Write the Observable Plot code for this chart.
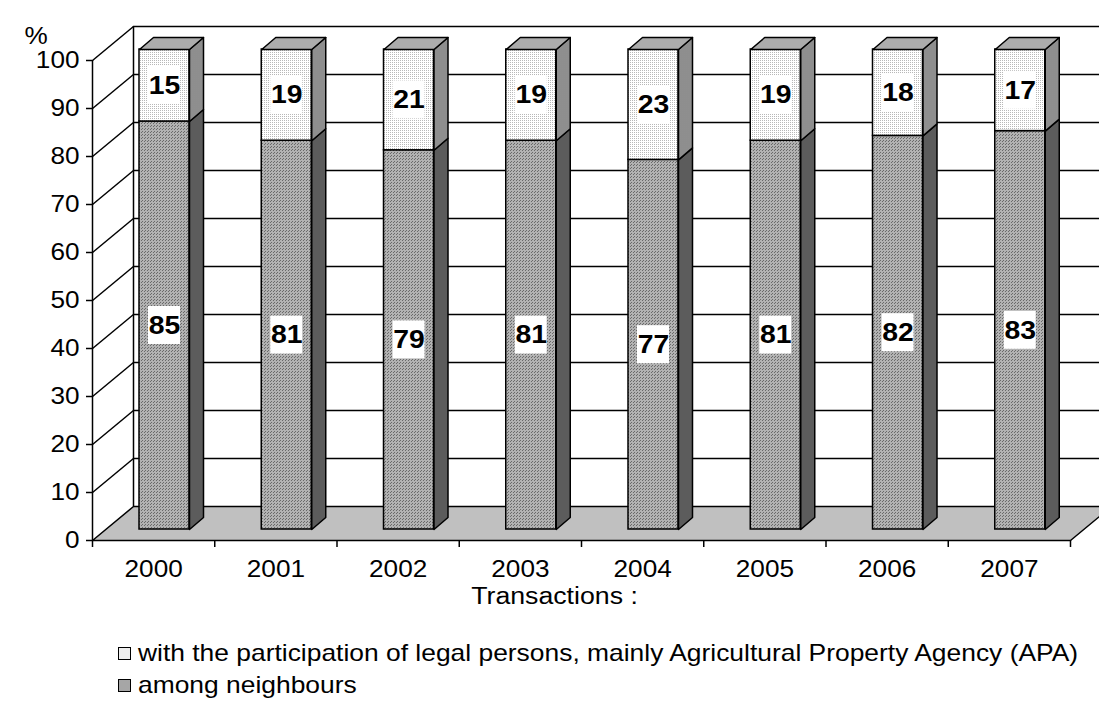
<!DOCTYPE html>
<html><head><meta charset="utf-8">
<script src="https://cdn.jsdelivr.net/npm/d3@7"></script>
<script src="https://cdn.jsdelivr.net/npm/@observablehq/plot@0.6"></script>
<style>
body{margin:0;background:#fff;font-family:"Liberation Sans",Arial,sans-serif;}
#wrap{position:relative;width:1099px;height:702px;}
#legend{position:absolute;left:118px;top:637px;font-size:24px;color:#000;line-height:32px;}
.item{display:flex;align-items:center;height:32px;white-space:nowrap;}
.sw{width:11px;height:11px;border:1.5px solid #000;margin-right:7px;flex:none;}
.tx{display:inline-block;transform:scaleX(1.1);transform-origin:left center;}
</style></head><body>
<div id="wrap"><div id="chart"></div><div id="legend"></div></div>
<script>
// ---- data ----
const years = ["2000","2001","2002","2003","2004","2005","2006","2007"];
const neighbours = [85,81,79,81,77,81,82,83];
const legalPersons = [15,19,21,19,23,19,18,17];
const yTicks = [0,10,20,30,40,50,60,70,80,90,100];
const seriesNames = ["with the participation of legal persons, mainly Agricultural Property Agency (APA)", "among neighbours"];
const axisTitle = "Transactions :";
const unitLabel = "%";

// ---- layout ----
const W=1099,H=615,ML=92,MR=29,MT=60,MB=75;
const n=years.length;
const kx=(W-ML-MR)/n, ky=(H-MT-MB)/100;
const px=p=>p/kx, py=p=>p/ky;
const WX=px(41), WY=py(34);           // wall depth
const OX=px(11), OY=py(11);           // bar front plane offset
const BL=px(36), BW=px(50);           // bar left in band, bar width
const DX=px(14), DY=py(12);           // bar depth
const STRETCH=1.09;                   // the original's text is slightly wide

const col={lowF:"url(#pLowF)",lowS:"url(#pLowS)",upF:"url(#pUpF)",upS:"url(#pUpS)",top:"url(#pTop)",floor:"#c0c0c0"};

// build geometry from values
const segs=[];
years.forEach((yr,i)=>{
  const lo=neighbours[i], hi=lo+legalPersons[i];
  segs.push({i,part:"low",y1:0,y2:lo,v:neighbours[i]});
  segs.push({i,part:"up",y1:lo,y2:hi,v:legalPersons[i]});
});
const fx1=d=>d.i+BL+OX, fx2=d=>d.i+BL+OX+BW;
const sidePoly=part=>segs.filter(d=>d.part===part).flatMap(d=>{
  const x=fx2(d), a=d.y1+OY, b=d.y2+OY, id=d.i;
  return [{id,x,y:a},{id,x:x+DX,y:a+DY},{id,x:x+DX,y:b+DY},{id,x,y:b}];
});
const topPoly=segs.filter(d=>d.part==="up").flatMap(d=>{
  const x1=fx1(d),x2=fx2(d),t=d.y2+OY,id=d.i;
  return [{id,x:x1,y:t},{id,x:x1+DX,y:t+DY},{id,x:x2+DX,y:t+DY},{id,x:x2,y:t}];
});
const floorPoly=[{x:0,y:0},{x:n,y:0},{x:n+WX,y:WY},{x:WX,y:WY}];
const cx=d=>(fx1(d)+fx2(d))/2, cy=d=>(d.y1+d.y2)/2+OY;

const chart=Plot.plot({
  width:W,height:H,marginLeft:ML,marginRight:MR,marginTop:MT,marginBottom:MB,
  x:{domain:[0,n],axis:null},
  y:{domain:[0,100],axis:null},
  style:{fontFamily:'"Liberation Sans",Arial,sans-serif',fontSize:"24px",background:"white",color:"black"},
  marks:[
    Plot.line(floorPoly,{x:"x",y:"y",fill:col.floor,stroke:"black",strokeWidth:1.5,curve:"linear-closed"}),
    Plot.ruleY(yTicks.slice(1),{y:v=>v+WY,x1:()=>WX,x2:()=>n+WX+1,stroke:"black",strokeWidth:1.5}),
    Plot.link(yTicks.slice(1),{x1:()=>0,y1:v=>v,x2:()=>WX,y2:v=>v+WY,stroke:"black",strokeWidth:1.5}),
    Plot.ruleX([WX],{y1:WY,y2:100+WY,stroke:"black",strokeWidth:1.5}),
    Plot.ruleX([0],{y1:0,y2:100,stroke:"black",strokeWidth:1.5}),
    Plot.axisY({ticks:yTicks,tickSize:6,tickPadding:7,fontSize:24,label:null,strokeWidth:1.5}),
    Plot.axisX({ticks:d3.range(n+1),tickFormat:()=>"",tickSize:7,label:null,strokeWidth:1.5}),
    Plot.text(years,{x:(d,i)=>i+0.5,y:()=>0,dy:29,text:d=>d,fontSize:24}),
    Plot.text([axisTitle],{frameAnchor:"bottom",dx:-27,dy:63,text:d=>d,fontSize:24.5}),
    Plot.text([unitLabel],{frameAnchor:"top-left",dx:-68,dy:-34,text:d=>d,fontSize:24}),
    // bar fronts
    Plot.rect(segs.filter(d=>d.part==="low"),{x1:fx1,x2:fx2,y1:d=>d.y1+OY,y2:d=>d.y2+OY,fill:col.lowF,stroke:"black",strokeWidth:1.5}),
    Plot.rect(segs.filter(d=>d.part==="up"),{x1:fx1,x2:fx2,y1:d=>d.y1+OY,y2:d=>d.y2+OY,fill:col.upF,stroke:"black",strokeWidth:1.5}),
    Plot.line(sidePoly("low"),{x:"x",y:"y",z:"id",fill:col.lowS,stroke:"black",strokeWidth:1.5,curve:"linear-closed"}),
    Plot.line(sidePoly("up"),{x:"x",y:"y",z:"id",fill:col.upS,stroke:"black",strokeWidth:1.5,curve:"linear-closed"}),
    Plot.line(topPoly,{x:"x",y:"y",z:"id",fill:col.top,stroke:"black",strokeWidth:1.5,curve:"linear-closed"}),
    // value labels
    Plot.rect(segs,{x1:d=>cx(d)-px(16),x2:d=>cx(d)+px(16),y1:d=>cy(d)-py(19),y2:d=>cy(d)+py(19),fill:"white"}),
    Plot.text(segs,{x:cx,y:cy,text:d=>String(d.v),fontWeight:"bold",fontSize:26,fill:"black",ariaLabel:"value-labels"})
  ]
});
// dotted textures (like the original's fill patterns)
const pats=[["pLowF","#b2b2b2","#6a6a6a",3],["pLowS","#6a6a6a","#303030",2],["pUpF","#ffffff","#b8b8b8",2],["pUpS","#a0a0a0","#5a5a5a",2],["pTop","#bcbcbc","#7c7c7c",2]];
const ns="http://www.w3.org/2000/svg";
const defs=document.createElementNS(ns,"defs");
pats.forEach(([id,bg,dot,s])=>{
  const p=document.createElementNS(ns,"pattern");
  p.setAttribute("id",id);p.setAttribute("width",s);p.setAttribute("height",s);p.setAttribute("patternUnits","userSpaceOnUse");
  const r=document.createElementNS(ns,"rect");r.setAttribute("width",s);r.setAttribute("height",s);r.setAttribute("fill",bg);
  const d=document.createElementNS(ns,"rect");d.setAttribute("x",0);d.setAttribute("y",0);d.setAttribute("width",1);d.setAttribute("height",1);d.setAttribute("fill",dot);
  p.appendChild(r);p.appendChild(d);
  if(s===3){const d2=document.createElementNS(ns,"rect");d2.setAttribute("x",1);d2.setAttribute("y",2);d2.setAttribute("width",1);d2.setAttribute("height",1);d2.setAttribute("fill",dot);p.appendChild(d2);}
  defs.appendChild(p);
});
chart.insertBefore(defs,chart.firstChild);
// horizontal stretch of the axis texts, around each text's own anchor
chart.querySelectorAll("text").forEach(t=>{
  if(t.closest('[aria-label="value-labels"]')) return;
  let tr=t.getAttribute("transform");
  if(!tr){
    const x=+(t.getAttribute("x")||0), y=+(t.getAttribute("y")||0);
    tr=`translate(${x},${y})`; t.setAttribute("x",0); t.setAttribute("y",0);
  }
  t.setAttribute("transform",tr+` scale(${STRETCH},1)`);
});
document.getElementById("chart").appendChild(chart);

const lg=document.getElementById("legend");
[[seriesNames[0],"#eeeeee"],[seriesNames[1],"#a6a6a6"]].forEach(([t,c])=>{
  const it=document.createElement("div");it.className="item";
  const s=document.createElement("span");s.className="sw";s.style.background=c;
  const tx=document.createElement("span");tx.className="tx";tx.textContent=t;
  it.appendChild(s);it.appendChild(tx);lg.appendChild(it);
});
</script>
</body></html>
